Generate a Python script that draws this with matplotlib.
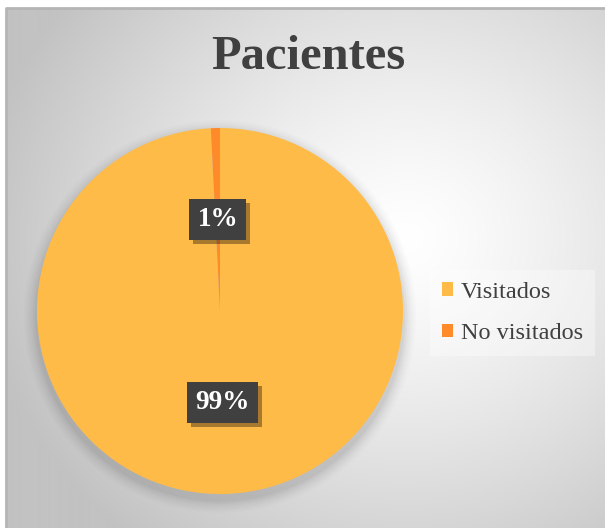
import numpy as np
import matplotlib
matplotlib.use("Agg")
import matplotlib.pyplot as plt
import matplotlib.patheffects as pe
from matplotlib.colors import to_rgb

categories = ["Visitados", "No visitados"]
values = [99.2, 0.8]
pct_labels = ["99%", "1%"]
title = "Pacientes"
colors = ["#FFBB48", "#FF8A2A"]

W, H = 605, 528
fig = plt.figure(figsize=(W / 100, H / 100), dpi=100)
fig.patch.set_facecolor("white")

# background panel with radial gradient
bg = fig.add_axes([6 / W, 0, 1 - 6 / W, 1 - 8 / H])
bg.set_axis_off()
yy, xx = np.mgrid[0:520, 0:600]
cx, cy = 400, 230
r = np.sqrt((xx - cx) ** 2 + ((yy - cy) * 1.1) ** 2) / 430
r = np.clip(r, 0, 1)
lo = np.array(to_rgb("#C2C2C2"))
hi = np.array([1.0, 1.0, 1.0])
img = hi[None, None, :] * (1 - r[..., None] ** 1.3) + lo[None, None, :] * (r[..., None] ** 1.3)
bg.imshow(img, extent=[0, 1, 0, 1], aspect="auto", origin="upper")
bg.set_xlim(0, 1)
bg.set_ylim(0, 1)
bg.plot([0, 0, 1], [0, 1, 1], color="#B5B5B5", lw=2, transform=bg.transAxes, clip_on=False)

fig.text(308 / W, 1 - 57 / H, title, ha="center", va="center",
         fontsize=35, fontweight="bold", family="Liberation Serif", color="#404040")

R = 183
pcx, pcy = 220, 311
ax = fig.add_axes([(pcx - R) / W, (H - pcy - R) / H, 2 * R / W, 2 * R / H])
ax.set_facecolor("none")

# soft shadow under pie
for k, a in zip(range(6, 0, -1), [0.012, 0.016, 0.02, 0.025, 0.03, 0.035]):
    ax.add_patch(plt.Circle((0.0, -0.03), 1.0 + k * 0.012, color="black", alpha=a, lw=0,
                            zorder=0, clip_on=False))

wedges, _ = ax.pie(values, colors=colors, startangle=90, counterclock=False,
                   radius=1.0, wedgeprops=dict(linewidth=0))
for w in wedges:
    w.set_zorder(2)
ax.set_xlim(-1, 1)
ax.set_ylim(-1, 1)
ax.set_aspect("equal")
ax.set_axis_off()

# percentage labels at half radius of each wedge
theta = 90.0
for v, lab in zip(values, pct_labels):
    mid = theta - v / 100 * 360 / 2
    theta -= v / 100 * 360
    x = 0.5 * np.cos(np.deg2rad(mid))
    y = 0.5 * np.sin(np.deg2rad(mid))
    t = ax.text(x, y, lab, ha="center", va="center", fontsize=19.5, fontweight="bold",
                family="Liberation Serif", color="white",
                bbox=dict(boxstyle="square,pad=0.3", fc="#404040", ec="none"), zorder=5)
    t.get_bbox_patch().set_path_effects([
        pe.SimplePatchShadow(offset=(3, -3), shadow_rgbFace="black", alpha=0.35),
        pe.Normal()])

leg = fig.legend(wedges, categories, loc="center left", bbox_to_anchor=(418 / W, 1 - 313 / H),
                 prop=dict(family="Liberation Serif", size=17.5), labelcolor="#404040",
                 handlelength=0.45, handleheight=0.45, handletextpad=0.3, labelspacing=0.85,
                 frameon=True, fancybox=False, borderpad=0.5)
leg.get_frame().set_facecolor("white")
leg.get_frame().set_alpha(0.35)
leg.get_frame().set_edgecolor("none")

fig.savefig("out.png", dpi=100, facecolor="white")
